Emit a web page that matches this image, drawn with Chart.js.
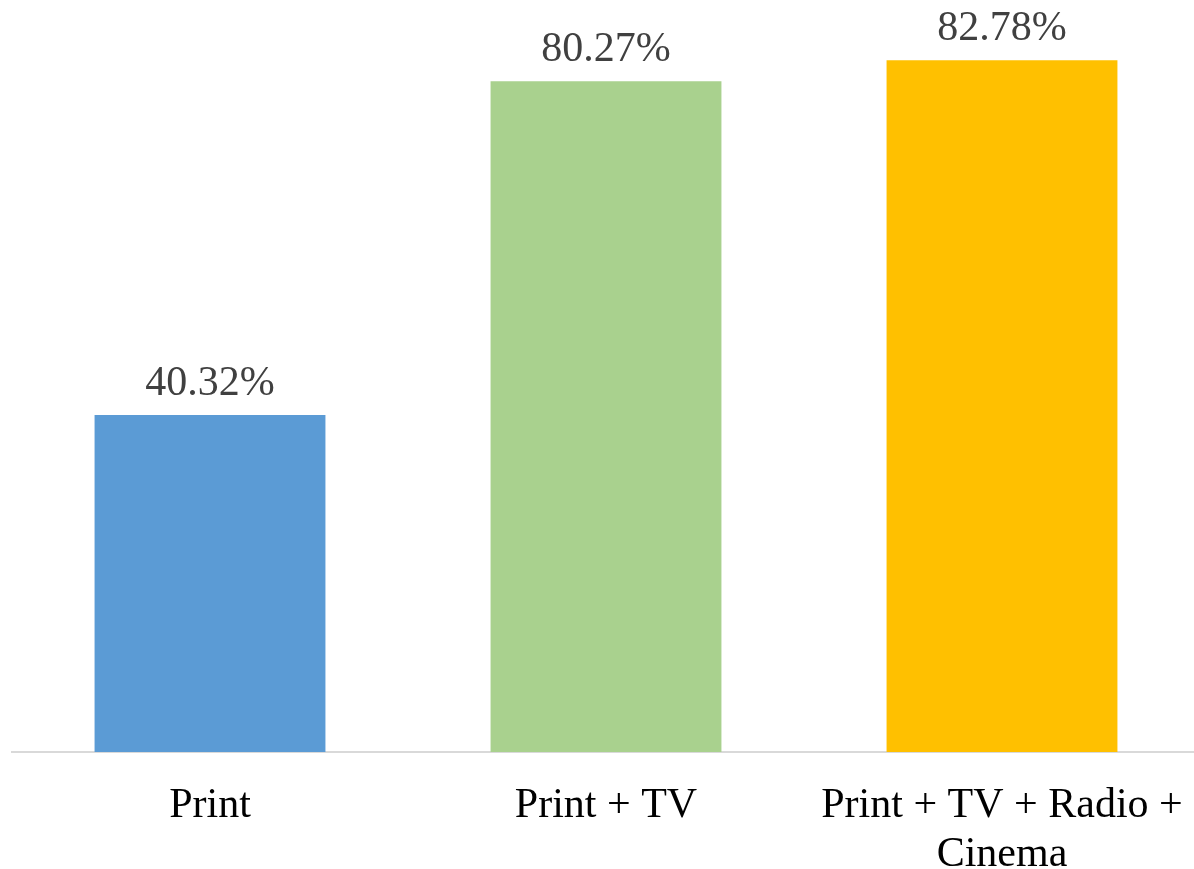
<!DOCTYPE html>
<html>
<head>
<meta charset="utf-8">
<script src="https://cdn.jsdelivr.net/npm/chart.js@4/dist/chart.umd.min.js"></script>
<style>
  html, body { margin: 0; padding: 0; background: #fff; overflow: hidden; }
  #wrap { width: 1194px; height: 869px; overflow: hidden; }
</style>
</head>
<body>
<div id="wrap"><canvas id="myChart" width="1206" height="869"></canvas></div>
<script>
// chart data
var categories = ["Print", "Print + TV", ["Print + TV + Radio +", "Cinema"]];
var values = [40.32, 80.27, 82.78];
var colors = ["#5B9BD5", "#A9D18E", "#FFC000"];

// draws the % value above each bar
var valueLabels = {
  id: "valueLabels",
  afterDatasetsDraw: function(chart) {
    var ctx = chart.ctx;
    var meta = chart.getDatasetMeta(0);
    ctx.save();
    ctx.font = "42px 'Liberation Serif'";
    ctx.fillStyle = "#404040";
    ctx.textAlign = "center";
    ctx.textBaseline = "alphabetic";
    for (var i = 0; i < meta.data.length; i++) {
      var bar = meta.data[i];
      ctx.fillText(values[i].toFixed(2) + "%", bar.x, bar.y - 20);
    }
    ctx.restore();
  }
};

var ctx = document.getElementById("myChart");
var myChart = new Chart(ctx, {
  type: "bar",
  data: {
    labels: categories,
    datasets: [{
      data: values,
      backgroundColor: colors,
      hoverBackgroundColor: colors,
      barPercentage: 0.583,
      categoryPercentage: 1
    }]
  },
  options: {
    responsive: false,
    animation: false,
    layout: { padding: { left: 12, right: 6, top: 0, bottom: 0 } },
    plugins: {
      legend: { display: false },
      tooltip: { enabled: false }
    },
    scales: {
      x: {
        grid: { display: false, drawTicks: false },
        border: { display: true, color: "#D9D9D9", width: 2 },
        afterFit: function(scale) {
          scale.height = 117;
          scale.paddingLeft = 0;
          scale.paddingRight = 0;
        },
        ticks: {
          color: "#000",
          padding: 29,
          maxRotation: 0,
          autoSkip: false,
          font: { family: "'Liberation Serif'", size: 42, lineHeight: 1.17 }
        }
      },
      y: {
        display: false,
        min: 0,
        max: 90
      }
    }
  },
  plugins: [valueLabels]
});
</script>
</body>
</html>
